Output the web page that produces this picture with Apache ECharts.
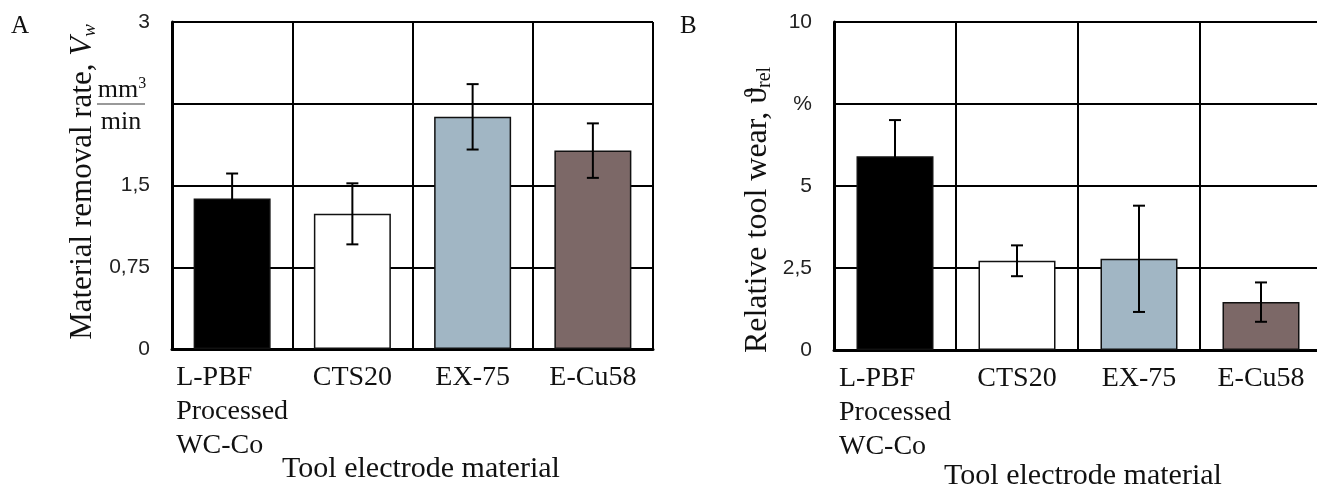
<!DOCTYPE html>
<html>
<head>
<meta charset="utf-8">
<script src="https://cdn.jsdelivr.net/npm/echarts@6/dist/echarts.min.js"></script>
<style>
html,body{margin:0;padding:0;background:#fff;}
#chart{width:1317px;height:484px;}
</style>
</head>
<body>
<div id="chart"></div>
<script>
// ---- data ----
const categories = ['L-PBF\nProcessed\nWC-Co', 'CTS20', 'EX-75', 'E-Cu58'];
const barColors = ['#000000', '#ffffff', '#a1b6c4', '#7c6867'];

// Panel A: material removal rate (mm^3/min)
const mrrValues = [1.38, 1.24, 2.13, 1.82];
const mrrErrors = [0.23, 0.28, 0.30, 0.25];
const mrrTicks = [0, 0.75, 1.5, 2.25, 3];
const mrrTickLabels = ['0', '0,75', '1,5', '', '3'];

// Panel B: relative tool wear (%)
const wearValues = [5.91, 2.72, 2.78, 1.46];
const wearErrors = [1.10, 0.47, 1.62, 0.60];
const wearTicks = [0, 2.5, 5, 7.5, 10];
const wearTickLabels = ['0', '2,5', '5', '%', '10'];

// ---- chart ----
const SERIF = '"Liberation Serif", "Times New Roman", serif';
const SANS = '"Liberation Sans", Arial, sans-serif';

function tickFormatter(ticks, labels) {
  return function (v) {
    for (let i = 0; i < ticks.length; i++) {
      if (Math.abs(ticks[i] - v) < 1e-9) return labels[i];
    }
    return '';
  };
}

function catLabelFormatter(v) {
  if (v.indexOf('\n') >= 0) {
    return v.split('\n').map(s => '{l|' + s + '}').join('\n');
  }
  return v;
}

function errorData(vals, errs) {
  return vals.map((v, i) => [i, v - errs[i], v + errs[i]]);
}

function renderError(params, api) {
  const x = api.value(0);
  const lo = api.coord([x, api.value(1)]);
  const hi = api.coord([x, api.value(2)]);
  const hw = 6;
  const st = {stroke: '#000', lineWidth: 2};
  return {
    type: 'group',
    children: [
      {type: 'line', shape: {x1: lo[0], y1: lo[1], x2: hi[0], y2: hi[1]}, style: st},
      {type: 'line', shape: {x1: hi[0] - hw, y1: hi[1], x2: hi[0] + hw, y2: hi[1]}, style: st},
      {type: 'line', shape: {x1: lo[0] - hw, y1: lo[1], x2: lo[0] + hw, y2: lo[1]}, style: st}
    ]
  };
}

function xAxisCfg(gridIndex) {
  return {
    type: 'category', gridIndex: gridIndex, data: categories,
    axisLine: {show: true, lineStyle: {color: '#000', width: 3}},
    axisTick: {show: false},
    splitLine: {show: true, lineStyle: {color: '#000', width: 2}},
    axisLabel: {
      color: '#111', fontFamily: SERIF, fontSize: 28, lineHeight: 34,
      margin: 12, interval: 0, formatter: catLabelFormatter,
      rich: {l: {fontFamily: SERIF, fontSize: 28, lineHeight: 34, width: 112, align: 'left', color: '#111'}}
    }
  };
}

function yAxisCfg(gridIndex, max, interval, ticks, labels) {
  return {
    type: 'value', gridIndex: gridIndex, min: 0, max: max, interval: interval,
    axisLine: {show: true, lineStyle: {color: '#000', width: 3}},
    axisTick: {show: false},
    splitLine: {show: true, lineStyle: {color: '#000', width: 2}},
    axisLabel: {color: '#222', fontFamily: SANS, fontSize: 21, margin: 22,
      formatter: tickFormatter(ticks, labels)}
  };
}

function barData(vals) {
  return vals.map((v, i) => ({value: v, itemStyle: {color: barColors[i]}}));
}

const chart = echarts.init(document.getElementById('chart'), null, {renderer: 'canvas'});
chart.setOption({
  animation: false,
  backgroundColor: '#fff',
  grid: [
    {left: 172, top: 22, width: 481, height: 327, outerBoundsMode: 'none'},
    {left: 834, top: 22, width: 488, height: 328, outerBoundsMode: 'none'}
  ],
  xAxis: [xAxisCfg(0), xAxisCfg(1)],
  yAxis: [
    yAxisCfg(0, 3, 0.75, mrrTicks, mrrTickLabels),
    yAxisCfg(1, 10, 2.5, wearTicks, wearTickLabels)
  ],
  series: [
    {type: 'bar', xAxisIndex: 0, yAxisIndex: 0, barWidth: 77, data: barData(mrrValues),
      itemStyle: {borderColor: '#111', borderWidth: 1.5}, z: 3},
    {type: 'custom', xAxisIndex: 0, yAxisIndex: 0, data: errorData(mrrValues, mrrErrors),
      encode: {x: 0, y: [1, 2]}, renderItem: renderError, z: 5},
    {type: 'bar', xAxisIndex: 1, yAxisIndex: 1, barWidth: 77, data: barData(wearValues),
      itemStyle: {borderColor: '#111', borderWidth: 1.5}, z: 3},
    {type: 'custom', xAxisIndex: 1, yAxisIndex: 1, data: errorData(wearValues, wearErrors),
      encode: {x: 0, y: [1, 2]}, renderItem: renderError, z: 5}
  ],
  graphic: [
    {type: 'text', left: 11, top: 14, style: {text: 'A', font: '25px ' + SERIF, fill: '#111'}},
    {type: 'text', left: 680, top: 14, style: {text: 'B', font: '25px ' + SERIF, fill: '#111'}},
    // Y title A
    {type: 'text', x: 83, y: 182, rotation: Math.PI / 2,
      style: {text: 'Material removal rate, {i|V}{s|w}', fill: '#111',
        font: '31px ' + SERIF, align: 'center', verticalAlign: 'middle',
        rich: {
          i: {fontFamily: SERIF, fontSize: 31, fontStyle: 'italic', fill: '#111'},
          s: {fontFamily: SERIF, fontSize: 19, fontStyle: 'italic', verticalAlign: 'bottom', padding: [14, 0, 0, 0], fill: '#111'}
        }}},
    // unit fraction
    {type: 'text', x: 122, y: 90, style: {text: 'mm{p|3}', font: '26px ' + SERIF, fill: '#111',
      align: 'center', verticalAlign: 'middle',
      rich: {p: {fontFamily: SERIF, fontSize: 16, verticalAlign: 'top', padding: [0, 0, 12, 0], fill: '#111'}}}},
    {type: 'line', shape: {x1: 97, y1: 104, x2: 145, y2: 104}, style: {stroke: '#777', lineWidth: 1.5}},
    {type: 'text', x: 121, y: 122, style: {text: 'min', font: '26px ' + SERIF, fill: '#111',
      align: 'center', verticalAlign: 'middle'}},
    // Y title B
    {type: 'text', x: 758, y: 210, rotation: Math.PI / 2,
      style: {text: 'Relative tool wear, \u03d1{s|rel}', fill: '#111',
        font: '32px ' + SERIF, align: 'center', verticalAlign: 'middle',
        rich: {
          s: {fontFamily: SERIF, fontSize: 20, verticalAlign: 'bottom', padding: [14, 0, 0, 0], fill: '#111'}
        }}},
    // X titles
    {type: 'text', x: 421, y: 469, style: {text: 'Tool electrode material', font: '30px ' + SERIF,
      fill: '#111', align: 'center', verticalAlign: 'middle'}},
    {type: 'text', x: 1083, y: 476, style: {text: 'Tool electrode material', font: '30px ' + SERIF,
      fill: '#111', align: 'center', verticalAlign: 'middle'}}
  ]
});
</script>
</body>
</html>
